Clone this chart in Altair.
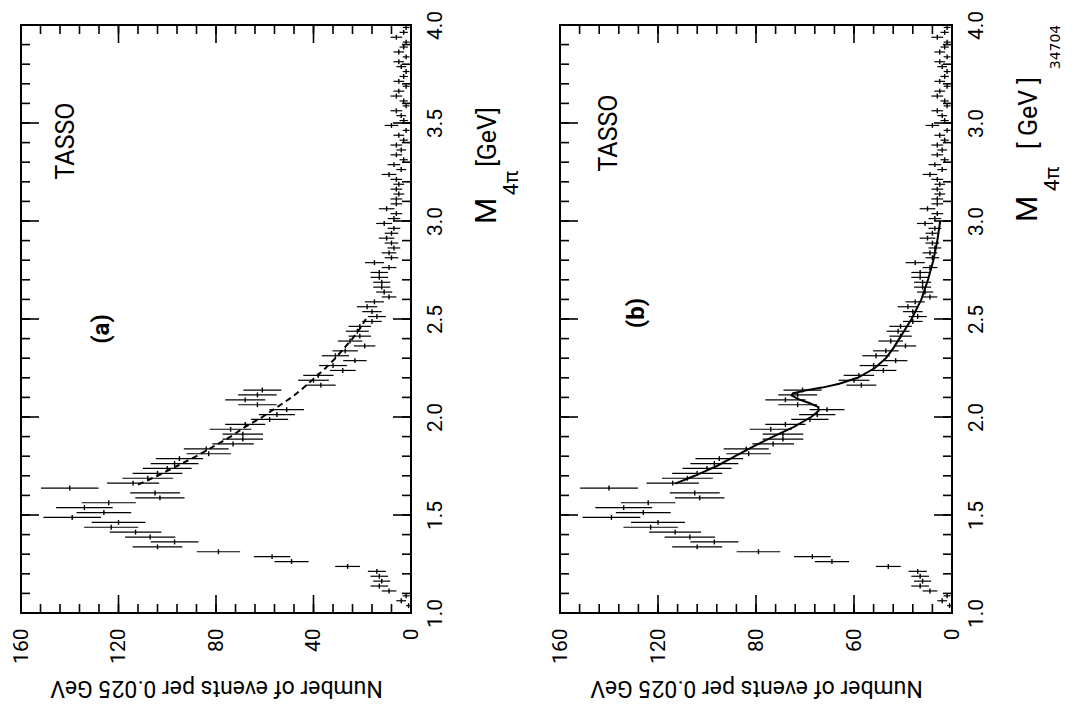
import altair as alt
import pandas as pd

# ---------------- data ----------------
# events per 0.025 GeV bin, bins starting at 1.0 GeV
counts = [0, 1, 4, 2, 9, 13, 12, 13, 14, 26,
          49, 57, 79, 104, 97, 107, 113, 123, 120, 139,
          126, 134, 124, 103, 105, 140, 114, 108, 104, 100,
          97, 95, 83, 84, 73, 69, 69, 74, 68, 58,
          55, 51, 63, 68, 63, 61, 37, 40, 38, 28,
          32, 23, 31, 27, 19, 25, 21, 22, 21, 16,
          14, 16, 18, 15, 9, 11, 12, 12, 13, 13,
          9, 15, 8, 9, 7, 8, 10, 8, 7, 11,
          7, 6, 10, 6, 6, 5, 6, 5, 6, 9,
          4, 7, 3, 6, 4, 6, 3, 5, 2, 8,
          3, 4, 6, 2, 3, 6, 5, 2, 5, 3,
          2, 4, 5, 2, 5, 3, 2, 6, 3, 2]
errors = [0, 1.0, 2.0, 1.4, 3.0, 3.6, 3.5, 3.6, 3.7, 5.1,
          7.0, 7.5, 8.9, 10.2, 9.8, 10.3, 10.6, 11.1, 11.0, 11.8,
          11.2, 11.6, 11.1, 10.1, 10.2, 11.8, 10.7, 10.4, 10.2, 10.0,
          9.8, 9.7, 9.1, 9.2, 8.5, 8.3, 8.3, 8.6, 8.2, 7.6,
          7.4, 7.1, 7.9, 8.2, 7.9, 7.8, 6.1, 6.3, 6.2, 5.3,
          5.7, 4.8, 5.6, 5.2, 4.4, 5.0, 4.6, 4.7, 4.6, 4.0,
          3.7, 4.0, 4.2, 3.9, 3.0, 3.3, 3.5, 3.5, 3.6, 3.6,
          3.0, 3.9, 2.8, 3.0, 2.6, 2.8, 3.2, 2.8, 2.6, 3.3,
          2.6, 2.4, 3.2, 2.4, 2.4, 2.2, 2.4, 2.2, 2.4, 3.0,
          2.0, 2.6, 1.7, 2.4, 2.0, 2.4, 1.7, 2.2, 1.4, 2.8,
          1.7, 2.0, 2.4, 1.4, 1.7, 2.4, 2.2, 1.4, 2.2, 1.7,
          1.4, 2.0, 2.2, 1.4, 2.2, 1.7, 1.4, 2.4, 1.7, 1.4]
BIN = 0.025
mass = [round(1.0 + BIN * (i + 0.5), 4) for i in range(len(counts))]

# fit curves
fit_a_mass = [1.655, 1.70, 1.75, 1.80, 1.85, 1.90, 1.95, 2.00, 2.05, 2.10,
              2.15, 2.20, 2.25, 2.30, 2.35, 2.40, 2.45, 2.50]
fit_a_count = [112, 104, 96, 88, 81, 74, 68, 61, 55, 49,
               44, 39.5, 35, 31, 27.5, 24, 21, 18.5]
fit_b_mass = [1.66, 1.70, 1.75, 1.80, 1.85, 1.90, 1.95, 2.00, 2.03, 2.05,
              2.07, 2.09, 2.11, 2.12, 2.135, 2.15, 2.17, 2.20, 2.25, 2.30,
              2.35, 2.40, 2.50, 2.60, 2.70, 2.80, 2.90, 3.00]
fit_b_count = [113, 105, 96, 88.5, 81, 73, 64.5, 57.5, 54.5, 54.5,
               58, 62.5, 65.5, 65, 60, 53, 46, 38.5, 31.5, 27,
               24, 21.5, 16.5, 12.5, 9.8, 7.6, 6, 4.8]

count_labels = [0, 40, 80, 120, 160]
mass_labels = [1.0, 1.5, 2.0, 2.5, 3.0, 3.5, 4.0]
count_minor = list(range(0, 161, 8))
mass_minor = [round(1.0 + 0.1 * i, 2) for i in range(31)]

FONT = "Roboto"
H = 588

data = pd.DataFrame({"mass": mass, "n": counts, "err": errors})
xs = alt.Scale(domain=[0, 160], reverse=True, nice=False, zero=False)
ys = alt.Scale(domain=[1.0, 4.0], nice=False, zero=False)


def txt(label, x, y, size, weight="normal", font=FONT):
    return alt.Chart(pd.DataFrame({"t": [label]})).mark_text(
        angle=270, font=font, fontSize=size, fontWeight=weight, color="black",
        align="center", baseline="middle"
    ).encode(x=alt.value(x), y=alt.value(y), text="t:N")


def panel(W, fm, fc, dashed, tag, tag_xy, tasso_xy, count_expr=None, mass_expr=None,
          gev="[GeV]", mt=None, extra=None):
    xkw = dict(orient="bottom", values=count_labels, format="d", labelAngle=270,
               labelAlign="right", labelBaseline="middle", labelPadding=15,
               labelFont=FONT, labelFontSize=21, labelColor="black",
               labelFlush=False, labelOverlap=False, ticks=False, domain=False,
               grid=False, title="Number of events per 0.025 GeV", titleAngle=180,
               titleBaseline="bottom", titleFont=FONT, titleFontSize=23,
               titleFontWeight="normal", titleColor="black", titlePadding=12)
    if count_expr:
        xkw["labelExpr"] = count_expr
    ykw = dict(orient="right", values=mass_labels, format=".1f", labelAngle=270,
               labelAlign="center", labelBaseline="top", labelPadding=13,
               labelFont=FONT, labelFontSize=21, labelColor="black",
               labelFlush=False, labelOverlap=False, ticks=False, domain=False,
               grid=False, title=None)
    if mass_expr:
        ykw["labelExpr"] = mass_expr
    xaxis = alt.Axis(**xkw)
    yaxis = alt.Axis(**ykw)

    base = alt.Chart(data).transform_calculate(
        lo="datum.n - datum.err", hi="datum.n + datum.err",
        m0="datum.mass - 0.0125", m1="datum.mass + 0.0125")
    ebar = base.mark_rule(color="black", strokeWidth=1.2).encode(
        x=alt.X("lo:Q", scale=xs, axis=xaxis), x2="hi:Q",
        y=alt.Y("mass:Q", scale=ys, axis=yaxis))
    bbar = base.mark_rule(color="black", strokeWidth=1.4).encode(
        x=alt.X("n:Q", scale=xs, axis=xaxis),
        y=alt.Y("m0:Q", scale=ys, axis=yaxis), y2="m1:Q")

    fit = pd.DataFrame({"m": fm, "c": fc})
    lkw = dict(color="black", strokeWidth=2)
    if dashed:
        lkw["strokeDash"] = [6, 4]
    line = alt.Chart(fit).mark_line(**lkw).encode(
        x=alt.X("c:Q", scale=xs, axis=xaxis), y=alt.Y("m:Q", scale=ys, axis=yaxis),
        order="m:Q")

    layers = [ebar, bbar, line]
    # inward ticks on all four sides
    for vals, L in ((count_minor, 9), (count_labels, 18)):
        d = pd.DataFrame({"v": vals})
        for y0, y1 in ((H, H - L), (0, L)):
            layers.append(alt.Chart(d).mark_rule(color="black", strokeWidth=1.6).encode(
                x=alt.X("v:Q", scale=xs, axis=xaxis), y=alt.value(y0), y2=alt.value(y1)))
    for vals, L in ((mass_minor, 9), (mass_labels, 18)):
        d = pd.DataFrame({"v": vals})
        for x0, x1 in ((W, W - L), (0, L)):
            layers.append(alt.Chart(d).mark_rule(color="black", strokeWidth=1.6).encode(
                y=alt.Y("v:Q", scale=ys, axis=yaxis), x=alt.value(x0), x2=alt.value(x1)))

    layers.append(txt("TASSO", tasso_xy[0], tasso_xy[1], 25))
    layers.append(txt(tag, tag_xy[0], tag_xy[1], 24, "bold"))
    mt = mt or {}
    layers.append(txt("M", W + 76, mt.get("M", 186), 30))
    layers.append(txt("4π", W + 101, mt.get("s", 158), 21))
    layers.append(txt(gev, W + 77, mt.get("g", 112), 25))
    if extra:
        layers.append(extra)
    return alt.layer(*layers).properties(width=W, height=H)


WA, WB = 390, 392
pa = panel(WA, fit_a_mass, fit_a_count, True, "(a)", (81, 304), (45, 116))
stamp = txt("34704", WB + 104, 22, 14, font="DejaVu Sans")
pb = panel(WB, fit_b_mass, fit_b_count, False, "(b)", (77, 288), (49, 108),
           count_expr="datum.value == 40 ? '60' : datum.label",
           mass_expr="datum.value == 3.5 ? '3.0' : datum.label",
           gev="[ GeV ]", mt={"M": 184, "s": 154, "g": 88}, extra=stamp)

chart = alt.hconcat(pa, pb, spacing=149, bounds="flush").properties(
    padding={"left": 9, "top": 9, "right": 0, "bottom": 10}
).configure(background="white").configure_view(stroke="black", strokeWidth=2)

chart.save("out.html", embed_options={"renderer": "svg", "actions": False})
